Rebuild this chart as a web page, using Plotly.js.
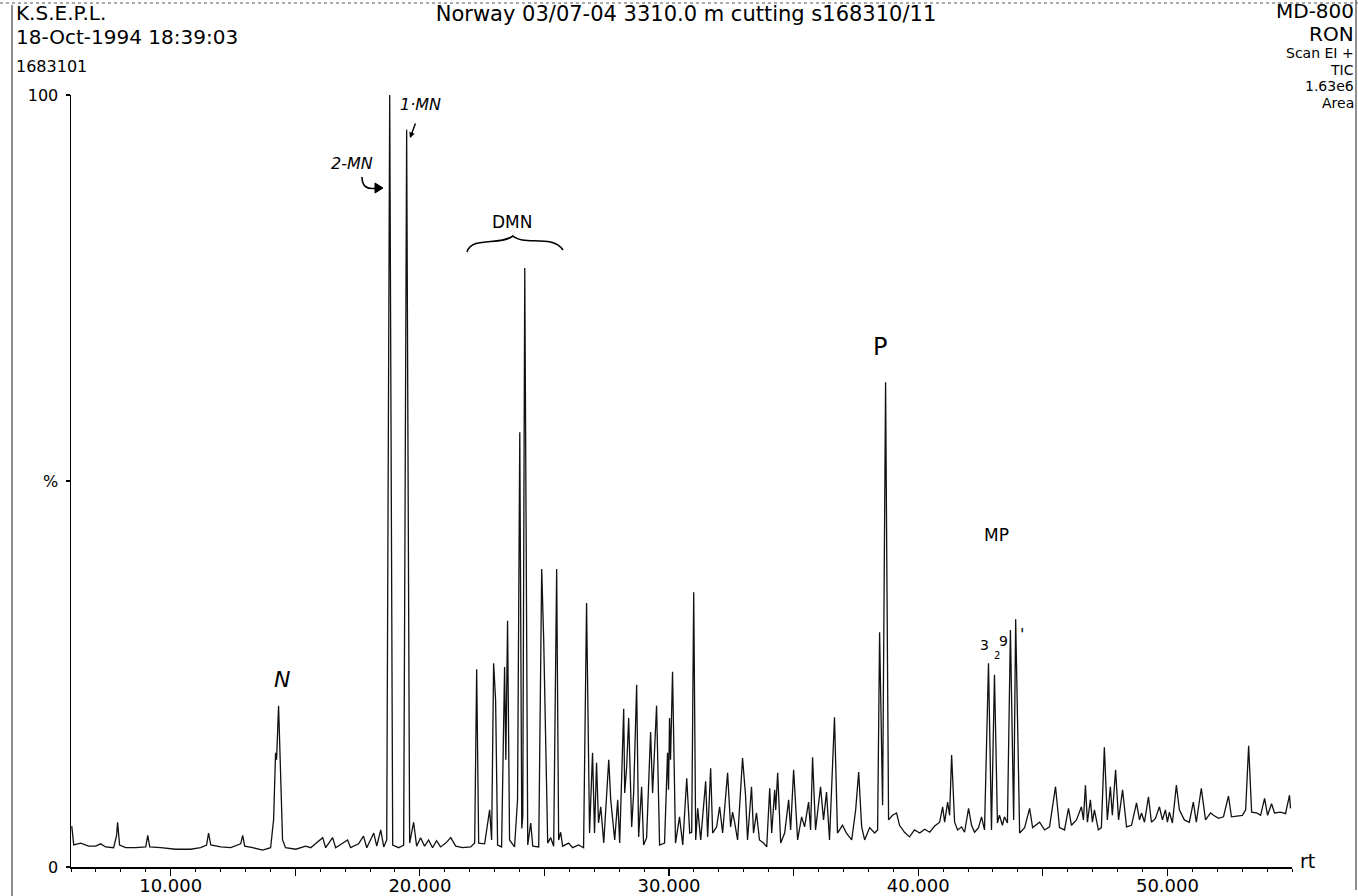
<!DOCTYPE html>
<html><head><meta charset="utf-8">
<script src="https://cdn.plot.ly/plotly-3.0.1.min.js"></script>
<style>html,body{margin:0;padding:0;background:#fff;} #chart{width:1358px;height:896px;}</style>
</head><body><div id="chart"></div>
<script>
// Retention time (minutes) and relative intensity (%)
const retentionTime = [
 6.03,6.11,6.39,6.71,6.99,7.19,7.39,7.71,7.83,7.87,
 7.95,8.19,8.60,9.00,9.08,9.16,9.60,10.20,10.80,11.20,
 11.44,11.52,11.61,12.01,12.41,12.81,12.89,12.97,13.29,13.69,
 14.01,14.13,14.21,14.25,14.33,14.41,14.49,14.61,15.02,15.42,
 15.62,16.10,16.22,16.50,16.62,17.10,17.22,17.54,17.74,17.87,
 18.15,18.27,18.43,18.55,18.67,18.79,18.91,19.15,19.35,19.47,
 19.59,19.75,19.87,20.03,20.19,20.35,20.51,20.67,20.83,21.04,
 21.24,21.44,21.72,22.04,22.20,22.28,22.36,22.60,22.80,22.88,
 22.96,23.04,23.12,23.28,23.40,23.45,23.52,23.60,23.80,23.92,
 24.01,24.09,24.13,24.21,24.33,24.45,24.53,24.77,24.89,24.97,
 25.01,25.13,25.25,25.37,25.49,25.57,25.65,25.73,25.97,26.13,
 26.37,26.57,26.69,26.81,26.93,27.01,27.09,27.17,27.26,27.38,
 27.58,27.66,27.82,27.94,28.02,28.18,28.22,28.30,28.38,28.50,
 28.58,28.70,28.78,28.90,28.98,29.10,29.26,29.34,29.50,29.62,
 29.82,29.94,29.98,30.02,30.06,30.14,30.26,30.42,30.55,30.71,
 30.83,30.91,30.99,31.07,31.15,31.27,31.47,31.55,31.67,31.75,
 31.91,32.03,32.15,32.35,32.47,32.55,32.63,32.75,32.95,33.07,
 33.15,33.31,33.39,33.51,33.63,33.79,33.92,34.04,34.12,34.24,
 34.28,34.36,34.48,34.64,34.80,34.88,35.00,35.16,35.32,35.44,
 35.60,35.68,35.76,35.88,36.08,36.20,36.32,36.44,36.64,36.76,
 36.96,37.12,37.33,37.49,37.61,37.73,37.85,38.05,38.25,38.37,
 38.45,38.57,38.69,38.81,38.97,39.13,39.25,39.45,39.65,39.85,
 40.06,40.26,40.46,40.66,40.86,40.98,41.06,41.18,41.26,41.34,
 41.46,41.58,41.74,41.86,42.02,42.14,42.26,42.42,42.54,42.66,
 42.82,42.94,43.06,43.18,43.26,43.38,43.46,43.58,43.70,43.83,
 43.91,44.07,44.27,44.47,44.59,44.87,45.07,45.27,45.51,45.67,
 45.87,46.03,46.15,46.35,46.55,46.63,46.71,46.79,46.91,46.99,
 47.07,47.23,47.35,47.47,47.59,47.71,47.79,47.92,48.04,48.20,
 48.36,48.56,48.76,48.88,48.96,49.08,49.24,49.36,49.52,49.68,
 49.80,49.92,50.00,50.08,50.20,50.36,50.48,50.68,50.88,51.04,
 51.16,51.36,51.53,51.73,51.85,52.05,52.25,52.45,52.57,52.77,
 53.01,53.14,53.26,53.38,53.58,53.74,53.90,54.02,54.18,54.30,
 54.54,54.74,54.90,54.94
];
const intensityPct = [
 5.3,2.85,3.1,2.7,2.7,3.0,2.6,2.5,4.1,5.8,
 2.85,2.5,2.5,2.6,4.1,2.6,2.5,2.3,2.3,2.5,
 2.85,4.4,2.85,2.6,2.5,3.0,4.1,2.7,2.5,2.2,
 2.5,6.1,14.8,13.9,20.9,11.3,3.5,2.5,2.3,2.7,
 2.5,3.8,2.5,3.8,2.5,3.5,2.5,3.0,4.0,2.5,
 4.4,2.7,4.8,2.6,3.5,100,2.85,2.5,2.85,95.5,
 3.1,5.8,2.7,3.8,2.7,3.5,2.5,3.4,2.6,3.1,
 3.8,2.7,2.5,2.6,3.1,25.6,3.1,3.0,7.4,3.5,
 26.4,21.6,2.85,2.6,25.9,13.9,31.9,3.5,2.6,8.7,
 56.3,5.0,6.5,77.6,2.85,5.7,2.7,2.6,38.6,29.4,
 22.0,3.1,3.8,2.7,38.6,3.5,4.5,2.7,3.1,2.5,
 2.85,2.5,34.2,4.4,14.8,4.4,13.5,5.7,7.8,3.1,
 13.9,8.7,3.5,8.7,3.1,20.5,9.6,13.0,19.3,5.2,
 9.6,23.6,3.9,10.4,2.85,3.8,17.5,9.6,20.9,2.85,
 3.1,14.8,10.0,19.3,13.9,25.3,3.1,6.5,2.85,11.5,
 4.4,4.5,35.6,3.5,7.6,3.5,11.1,3.9,12.8,4.4,
 5.2,7.8,4.4,12.2,5.2,7.1,5.8,3.5,14.1,9.3,
 3.5,10.4,4.4,7.0,3.5,3.1,2.6,10.2,4.4,10.0,
 7.4,12.2,3.1,4.4,8.7,4.8,12.6,3.5,6.5,5.2,
 8.4,4.8,14.2,4.8,10.4,6.1,9.7,3.5,19.4,4.4,
 5.4,4.4,3.5,7.4,12.3,5.2,3.5,5.1,4.4,4.8,
 30.4,8.0,62.8,6.1,6.7,7.0,5.4,4.5,3.9,4.8,
 4.4,4.9,4.5,5.3,5.8,7.8,5.8,8.4,6.7,14.5,
 5.8,4.8,5.2,4.5,7.6,5.4,4.5,5.1,6.5,4.8,
 26.4,4.8,24.9,5.7,6.7,5.4,6.5,5.7,30.7,6.1,
 32.1,4.4,5.1,7.6,5.1,5.8,4.8,5.2,10.4,5.1,
 4.8,7.6,5.4,6.1,7.8,6.1,10.6,5.8,8.7,5.8,
 7.4,4.8,5.1,15.5,6.1,10.4,6.7,12.6,6.1,10.0,
 5.2,5.4,8.3,6.1,7.0,5.8,9.1,5.8,6.3,7.8,
 6.1,7.4,5.8,7.1,5.7,10.6,7.4,6.1,5.8,8.4,
 5.8,10.2,6.1,7.0,6.7,6.3,6.5,9.2,6.5,6.6,
 6.7,7.4,15.7,7.1,7.0,6.7,8.9,6.7,8.2,7.0,
 7.1,6.9,9.3,7.6
];
const xTickVals = [10,15,20,25,30,35,40,45,50];
const xTickText = ['10.000','','20.000','','30.000','','40.000','','50.000'];
const yTickVals = [0,50,100];
const yTickText = ['0','%','100'];
const titleText = 'Norway 03/07-04 3310.0 m cutting s168310/11';
const headerLeft = ['K.S.E.P.L.','18-Oct-1994 18:39:03','1683101'];
const headerRight = ['MD-800','RON','Scan EI +','TIC','1.63e6','Area'];

// page-pixel helpers for decorations
const L = 71, R = 1292, T = 95, B = 867;
const px = v => (v - L) / (R - L);
const py = v => (B - v) / (B - T);
const FONT = '"DejaVu Sans", Arial, sans-serif';

function note(text, x, y, size, xanchor, extra) {
  return Object.assign({
    text: text, xref: 'paper', yref: 'paper', x: px(x), y: py(y),
    xanchor: xanchor || 'left', yanchor: 'middle', showarrow: false,
    font: {family: FONT, size: size, color: '#000'}
  }, extra || {});
}

const annotations = [
  note(headerLeft[0], 14, 13, 20, 'left'),
  note(headerLeft[1], 14, 37, 20, 'left'),
  note(headerLeft[2], 14, 66, 16, 'left'),
  note(headerRight[0], 1356, 11, 20, 'right'),
  note(headerRight[1], 1356, 34, 20, 'right'),
  note(headerRight[2], 1356, 53, 14, 'right'),
  note(headerRight[3], 1356, 69.5, 14, 'right'),
  note(headerRight[4], 1356, 86, 14, 'right'),
  note(headerRight[5], 1356, 102.5, 14, 'right'),
  note('rt', 1298, 861, 19, 'left'),
  // handwritten labels
  note('<i>2-MN</i>', 352, 163, 16, 'center'),
  note('<i>1·MN</i>', 420, 104, 16, 'center'),
  note('DMN', 512, 222, 17, 'center'),
  note('<i>N</i>', 282, 679, 22, 'center'),
  note('P', 880, 347, 24, 'center'),
  note('MP', 996, 535, 17, 'center'),
  note('3', 984, 645, 14, 'center'),
  note('2', 997, 655, 10, 'center'),
  note('9', 1003, 641, 14, 'center'),
  note("'", 1022, 634, 16, 'center'),
  {text: '', xref: 'paper', yref: 'paper', x: px(410), y: py(138),
   showarrow: true, ax: 6, ay: -16, arrowhead: 2, arrowsize: 0.8,
   arrowwidth: 1.4, arrowcolor: '#000'}
];

const brace = `M ${px(467)},${py(252)} C ${px(472)},${py(236)} ${px(500)},${py(246)} ${px(513)},${py(236)} ` +
              `C ${px(524)},${py(246)} ${px(552)},${py(234)} ${px(563)},${py(250)}`;
const hook = `M ${px(362)},${py(177)} Q ${px(362)},${py(191)} ${px(377)},${py(188)}`;
const head = `M ${px(383)},${py(188)} L ${px(375)},${py(183)} L ${px(375)},${py(193)} Z`;

const shapes = [
  {type: 'path', xref: 'paper', yref: 'paper', path: brace, line: {color: '#000', width: 1.6}},
  {type: 'path', xref: 'paper', yref: 'paper', path: hook, line: {color: '#000', width: 1.6}},
  {type: 'path', xref: 'paper', yref: 'paper', path: head, fillcolor: '#000', line: {color: '#000', width: 1}},
  // scanned page frame
  {type: 'line', xref: 'paper', yref: 'paper', x0: px(12), x1: px(12), y0: py(5), y1: py(896), line: {color: '#444', width: 1.2}},
  {type: 'line', xref: 'paper', yref: 'paper', x0: px(1356), x1: px(1356), y0: py(0), y1: py(890), line: {color: '#444', width: 1.2}},
  {type: 'line', xref: 'paper', yref: 'paper', x0: px(0), x1: px(1358), y0: py(3), y1: py(3), line: {color: '#555', width: 1, dash: 'dot'}}
];

const trace = {
  x: retentionTime, y: intensityPct, type: 'scatter', mode: 'lines',
  line: {color: '#111', width: 1.3}, hoverinfo: 'skip'
};

const layout = {
  width: 1358, height: 896,
  margin: {l: L, r: 1358 - R, t: T, b: 896 - B},
  paper_bgcolor: '#fff', plot_bgcolor: '#fff', showlegend: false,
  title: {text: titleText, xref: 'container', yref: 'container',
          x: 686 / 1358, xanchor: 'center', y: 1 - 14 / 896, yanchor: 'middle',
          font: {family: FONT, size: 21, color: '#000'}},
  xaxis: {range: [6, 55], showline: true, linecolor: '#000', linewidth: 1.5,
          ticks: 'outside', ticklen: 7, tickwidth: 1.2, tickcolor: '#000',
          tickmode: 'array', tickvals: xTickVals, ticktext: xTickText,
          tickfont: {family: FONT, size: 18, color: '#000'}, ticklabelstandoff: -5,
          showgrid: false, zeroline: false, automargin: false,
          minor: {tickmode: 'linear', tick0: 0, dtick: 1, ticks: 'outside',
                  ticklen: 3, tickwidth: 1, tickcolor: '#000', showgrid: false}},
  yaxis: {range: [0, 100], showline: true, linecolor: '#000', linewidth: 1.5,
          ticks: 'outside', ticklen: 4, tickwidth: 1.2, tickcolor: '#000',
          tickmode: 'array', tickvals: yTickVals, ticktext: yTickText,
          tickfont: {family: FONT, size: 16, color: '#000'}, ticklabelstandoff: 4,
          showgrid: false, zeroline: false, automargin: false},
  annotations: annotations,
  shapes: shapes
};

Plotly.newPlot('chart', [trace], layout, {staticPlot: true, displayModeBar: false});
</script>
</body></html>
